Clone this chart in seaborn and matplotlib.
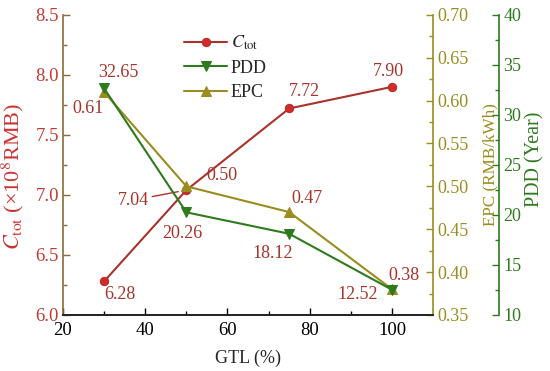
import matplotlib
matplotlib.use("Agg")
import matplotlib.pyplot as plt
import seaborn as sns
import pandas as pd

# data
gtl = [30, 50, 75, 100]
c_tot = [6.28, 7.04, 7.72, 7.90]
pdd = [32.65, 20.26, 18.12, 12.52]
epc = [0.61, 0.50, 0.47, 0.38]

df = pd.DataFrame({"GTL": gtl, "Ctot": c_tot, "PDD": pdd, "EPC": epc})

sns.set_theme(style="ticks")
plt.rcParams["font.family"] = ["Liberation Serif", "DejaVu Serif"]
plt.rcParams["mathtext.fontset"] = "stix"

red_line = "#A8332A"
red_txt = "#C23B32"
brown = "#8B6A3A"
green = "#2E7A1C"
olive = "#9A8C1E"
fs = 13

fig = plt.figure(figsize=(5.5, 3.71), dpi=100)
ax = fig.add_axes([0.1145, 0.151, 0.673, 0.809])
ax2 = ax.twinx()
ax3 = ax.twinx()
ax3.spines["right"].set_position(("outward", 47.5))

sns.lineplot(data=df, x="GTL", y="Ctot", ax=ax, color=red_line, marker="o",
             markersize=6, markerfacecolor="#D8282A", markeredgecolor=red_line,
             linewidth=1.5, label=r"$C_{\mathrm{tot}}$", legend=False)
sns.lineplot(data=df, x="GTL", y="EPC", ax=ax2, color=olive, marker="^",
             markersize=7, markeredgecolor=olive, linewidth=1.5, label="EPC", legend=False)
sns.lineplot(data=df, x="GTL", y="PDD", ax=ax3, color=green, marker="v",
             markersize=7, markeredgecolor=green, linewidth=1.5, label="PDD", legend=False)

ax.set_xlim(20, 110)
ax.set_ylim(6.0, 8.5)
ax2.set_ylim(0.35, 0.70)
ax3.set_ylim(10, 40)
ax.set_xticks([20, 40, 60, 80, 100])
ax.set_xticks([30, 50, 70, 90], minor=True)
ax.set_yticks([6.0, 6.5, 7.0, 7.5, 8.0, 8.5])
ax.set_yticks([6.25, 6.75, 7.25, 7.75, 8.25], minor=True)
ax2.set_yticks([0.35, 0.40, 0.45, 0.50, 0.55, 0.60, 0.65, 0.70])
ax2.set_yticks([0.375, 0.425, 0.475, 0.525, 0.575, 0.625, 0.675], minor=True)
ax3.set_yticks([10, 15, 20, 25, 30, 35, 40])
ax3.set_yticks([12.5, 17.5, 22.5, 27.5, 32.5, 37.5], minor=True)
ax.yaxis.set_major_formatter(matplotlib.ticker.FormatStrFormatter("%.1f"))
ax2.yaxis.set_major_formatter(matplotlib.ticker.FormatStrFormatter("%.2f"))

ax.set_xlabel("GTL (%)", fontsize=fs, labelpad=8)
ax.set_ylabel(r"$C_{\mathrm{tot}}$ (×10$^8$RMB)", fontsize=16, color="#CC3333")
ax.yaxis.set_label_coords(-0.099, 0.46)
ax2.set_ylabel("EPC (RMB/kWh)", fontsize=12.3, color=olive)
ax2.yaxis.set_label_coords(1.132, 0.5)
ax3.set_ylabel("PDD (Year)", fontsize=14.5, color=green)
ax3.yaxis.set_label_coords(1.249, 0.52)

for a in (ax, ax2, ax3):
    a.spines["top"].set_visible(False)
    a.tick_params(which="both", direction="in", labelsize=fs, pad=3)
    a.tick_params(which="major", length=5, width=1)
    a.tick_params(which="minor", length=3, width=1)
ax.spines["right"].set_visible(False)
ax.spines["left"].set_color(brown)
ax.spines["bottom"].set_color("black")
ax.tick_params(axis="y", which="both", colors=brown, labelcolor=red_txt, labelsize=13.5)
ax.tick_params(axis="x", which="both", colors="black", labelsize=13.5, pad=5)
ax2.spines["left"].set_visible(False)
ax2.spines["right"].set_color(olive)
ax2.tick_params(axis="y", which="both", colors=olive)
ax3.spines["left"].set_visible(False)
ax3.spines["right"].set_color(green)
ax3.tick_params(axis="y", which="both", colors=green)
for sp in (ax, ax2, ax3):
    for s in sp.spines.values():
        s.set_linewidth(1.2)

# value labels (offsets in pixels)
lab_col = "#A8332A"
c_off = [(16, -13), (-53, -10), (15, 17), (-4, 15)]
p_off = [(14, 16), (-4, -21), (-17, -20), (-34, -5)]
e_off = [(-16, -16), (36, 11), (18, 14), (12, 14)]
for i, x in enumerate(gtl):
    arrow = dict(arrowstyle="-", color=lab_col, lw=1, shrinkA=0, shrinkB=6) if i == 1 else None
    ax.annotate(f"{c_tot[i]:.2f}", (x, c_tot[i]), xytext=c_off[i], textcoords="offset pixels",
                ha="center", va="center", fontsize=fs, color=lab_col, arrowprops=arrow)
    ax3.annotate(f"{pdd[i]:.2f}", (x, pdd[i]), xytext=p_off[i], textcoords="offset pixels",
                 ha="center", va="center", fontsize=fs, color=lab_col)
    ax2.annotate(f"{epc[i]:.2f}", (x, epc[i]), xytext=e_off[i], textcoords="offset pixels",
                 ha="center", va="center", fontsize=fs, color=lab_col)

handles = ax.get_lines()[:1] + ax3.get_lines()[:1] + ax2.get_lines()[:1]
ax3.legend(handles, [r"$C_{\mathrm{tot}}$", "PDD", "EPC"], loc="upper left",
           bbox_to_anchor=(0.283, 0.99), frameon=False, fontsize=fs,
           handlelength=2.4, labelspacing=0.4, handletextpad=0.2)

fig.savefig("out.png", dpi=100)
